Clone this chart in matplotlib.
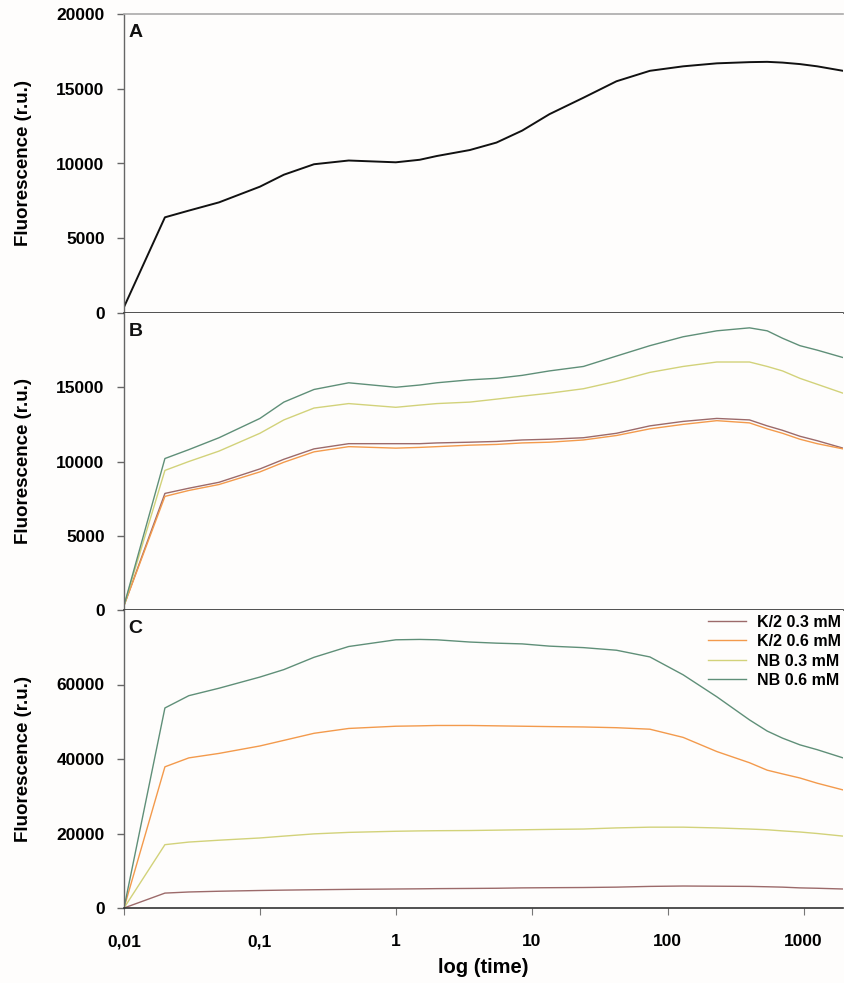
import matplotlib
matplotlib.use("Agg")
import matplotlib.pyplot as plt
from matplotlib.ticker import FixedLocator, NullLocator

plt.rcParams['font.family'] = ['Liberation Sans', 'DejaVu Sans']
plt.rcParams['font.weight'] = 'bold'

# ---- data ----
time = [0.01, 0.02, 0.03, 0.05, 0.1, 0.15, 0.25, 0.45, 1, 1.5, 2, 3.5, 5.5, 8.5,
        13.5, 24, 42, 74, 130, 230, 400, 540, 700, 940, 1260, 1950]

a_signal = [400, 6400, 6850, 7400, 8450, 9250, 9950, 10200, 10080, 10250, 10500, 10900,
            11400, 12200, 13300, 14400, 15500, 16200, 16500, 16700, 16780, 16800, 16750,
            16650, 16500, 16200]

b_k2_03 = [300, 7850, 8200, 8600, 9500, 10150, 10850, 11200, 11200, 11200, 11250, 11300,
           11350, 11450, 11500, 11600, 11900, 12400, 12700, 12900, 12800, 12400, 12100,
           11700, 11400, 10900]
b_k2_06 = [300, 7650, 8050, 8450, 9300, 9950, 10650, 11000, 10900, 10950, 11000, 11100,
           11150, 11250, 11300, 11450, 11750, 12200, 12500, 12750, 12600, 12200, 11900,
           11500, 11200, 10850]
b_nb_03 = [300, 9400, 10000, 10700, 11900, 12800, 13600, 13900, 13650, 13800, 13900, 14000,
           14200, 14400, 14600, 14900, 15400, 16000, 16400, 16700, 16700, 16400, 16100,
           15600, 15200, 14600]
b_nb_06 = [300, 10200, 10800, 11600, 12900, 14000, 14850, 15300, 15000, 15150, 15300, 15500,
           15600, 15800, 16100, 16400, 17100, 17800, 18400, 18800, 19000, 18800, 18300,
           17800, 17500, 17000]

c_k2_03 = [0, 4000, 4300, 4500, 4700, 4800, 4900, 5000, 5100, 5150, 5200, 5250, 5300, 5400,
           5450, 5500, 5600, 5800, 5900, 5850, 5800, 5700, 5600, 5400, 5300, 5100]
c_k2_06 = [0, 37900, 40300, 41500, 43500, 45000, 46900, 48200, 48800, 48900, 49000, 49000,
           48900, 48800, 48700, 48600, 48400, 48000, 45800, 42000, 39000, 37000, 36000,
           34900, 33500, 31700]
c_nb_03 = [0, 17000, 17700, 18200, 18800, 19300, 19900, 20300, 20600, 20700, 20750, 20800,
           20900, 21000, 21100, 21200, 21500, 21700, 21700, 21500, 21200, 21000, 20700,
           20400, 20000, 19300]
c_nb_06 = [0, 53700, 57000, 59000, 62000, 64000, 67300, 70200, 72000, 72100, 72000, 71400,
           71100, 70900, 70300, 69900, 69200, 67400, 62600, 56700, 50500, 47500, 45600,
           43800, 42500, 40300]

series_labels = ['K/2 0.3 mM', 'K/2 0.6 mM', 'NB 0.3 mM', 'NB 0.6 mM']
series_colors = ['#9c6a6a', '#f39a4c', '#d2d27a', '#5f8f78']

xticks = [0.01, 0.1, 1, 10, 100, 1000]
xticklabels = ['0,01', '0,1', '1', '10', '100', '1000']

# ---- figure ----
W, H = 844, 983
fig = plt.figure(figsize=(W / 100, H / 100), dpi=100)
fig.patch.set_facecolor('#fefdfc')

left = 124 / W
right = 843 / W
tops = [14, 313, 610]
bots = [313, 610, 908]
axes = []
for t, b in zip(tops, bots):
    ax = fig.add_axes([left, 1 - b / H, right - left, (b - t) / H])
    ax.set_facecolor('#fefdfc')
    axes.append(ax)

axA, axB, axC = axes

axA.plot(time, a_signal, color='#111111', lw=1.4)
for vals, c in zip([b_k2_03, b_k2_06, b_nb_03, b_nb_06], series_colors):
    axB.plot(time, vals, color=c, lw=1.0)
for vals, c, lab in zip([c_k2_03, c_k2_06, c_nb_03, c_nb_06], series_colors, series_labels):
    axC.plot(time, vals, color=c, lw=1.0, label=lab)

ylims = [(0, 20000), (0, 20000), (0, 80000)]
yticks = [[0, 5000, 10000, 15000, 20000], [0, 5000, 10000, 15000], [0, 20000, 40000, 60000]]
letters = ['A', 'B', 'C']

for ax, yl, yt, let in zip(axes, ylims, yticks, letters):
    ax.set_xscale('log')
    ax.set_xlim(0.01, 1950)
    ax.set_ylim(*yl)
    ax.set_yticks(yt)
    ax.set_yticklabels([str(v) for v in yt], fontsize=12.5, fontweight='bold')
    ax.xaxis.set_major_locator(FixedLocator(xticks))
    ax.xaxis.set_minor_locator(NullLocator())
    ax.spines['right'].set_visible(False)
    ax.spines['top'].set_visible(False)
    ax.spines['left'].set_color('#666666')
    ax.spines['bottom'].set_color('#333333')
    ax.spines['left'].set_linewidth(1.0)
    ax.spines['bottom'].set_linewidth(1.2)
    ax.tick_params(axis='y', direction='out', length=5, width=1, color='#666666', pad=9)
    ax.tick_params(axis='x', direction='out', length=3, width=0.8, color='#777777')
    ax.set_ylabel('Fluorescence (r.u.)', fontsize=13.5, fontweight='bold', va='center')
    ax.yaxis.set_label_coords(-0.14, 0.5)
    ax.text(0.006, 0.965, let, transform=ax.transAxes, fontsize=14, fontweight='bold',
            ha='left', va='top', color='#111111')

axA.spines['top'].set_visible(True)
axA.spines['top'].set_color('#aaaaaa')
axA.spines['top'].set_linewidth(1.2)

for ax in (axA, axB):
    ax.set_xticklabels([])

axC.set_xticklabels(xticklabels, fontsize=12.5, fontweight='bold')
axC.tick_params(axis='x', pad=14, length=5)
axC.set_xlabel('log (time)', fontsize=14.5, fontweight='bold', va='center')
axC.xaxis.set_label_coords(0.5, -0.201)

leg = axC.legend(loc='upper right', bbox_to_anchor=(1.0, 0.99), frameon=False,
                 prop={'size': 11.5, 'weight': 'bold'}, handlelength=2.4,
                 handletextpad=0.7, labelspacing=0.28, borderaxespad=0.1,
                 borderpad=0.0)

fig.savefig('out.png', dpi=100, facecolor=fig.get_facecolor())
